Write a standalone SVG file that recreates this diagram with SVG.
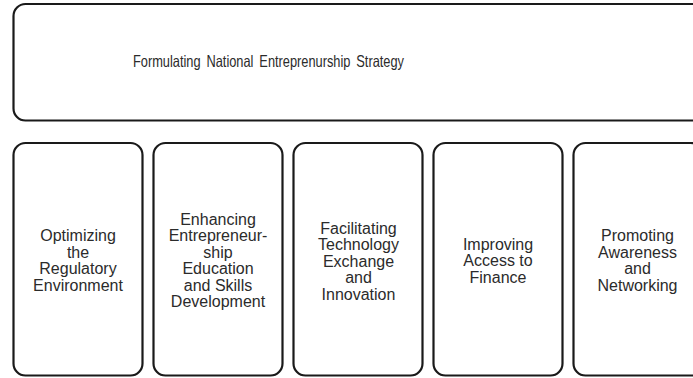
<svg xmlns="http://www.w3.org/2000/svg" width="693" height="378" viewBox="0 0 693 378">
<style>
.box{fill:#fff;stroke:#1a1a1a;stroke-width:2.2}
.t{font-family:"Liberation Sans",Arial,sans-serif;font-size:16px;fill:#2b2b2b;text-anchor:middle}
.title{font-family:"Liberation Sans",Arial,sans-serif;font-size:16.5px;fill:#2b2b2b;text-anchor:start;word-spacing:3px}
</style>
<rect width="693" height="378" fill="#fff"/>
<g id="strategy">
<rect class="box" x="13.5" y="4" width="700" height="116.5" rx="12"/>
<text class="title" x="133" y="67" textLength="271" lengthAdjust="spacingAndGlyphs">Formulating National Entreprenurship Strategy</text>
</g>
<g id="regulatory">
<rect class="box" x="13.5" y="143" width="129" height="232.5" rx="12"/>
<text class="t" x="78" y="241">Optimizing</text>
<text class="t" x="78" y="257.5">the</text>
<text class="t" x="78" y="274">Regulatory</text>
<text class="t" x="78" y="290.5">Environment</text>
</g>
<g id="education">
<rect class="box" x="153.5" y="143" width="129" height="232.5" rx="12"/>
<text class="t" x="218" y="224.5">Enhancing</text>
<text class="t" x="218" y="241">Entrepreneur-</text>
<text class="t" x="218" y="257.5">ship</text>
<text class="t" x="218" y="274">Education</text>
<text class="t" x="218" y="290.5">and Skills</text>
<text class="t" x="218" y="307">Development</text>
</g>
<g id="technology">
<rect class="box" x="293.5" y="143" width="129" height="232.5" rx="12"/>
<text class="t" x="358.5" y="233.5">Facilitating</text>
<text class="t" x="358.5" y="250">Technology</text>
<text class="t" x="358.5" y="266.5">Exchange</text>
<text class="t" x="358.5" y="283">and</text>
<text class="t" x="358.5" y="299.5">Innovation</text>
</g>
<g id="finance">
<rect class="box" x="433.5" y="143" width="129" height="232.5" rx="12"/>
<text class="t" x="498" y="249.5">Improving</text>
<text class="t" x="498" y="266">Access to</text>
<text class="t" x="498" y="282.5">Finance</text>
</g>
<g id="networking">
<rect class="box" x="573.5" y="143" width="129" height="232.5" rx="12"/>
<text class="t" x="637.5" y="241">Promoting</text>
<text class="t" x="637.5" y="257.5">Awareness</text>
<text class="t" x="637.5" y="274">and</text>
<text class="t" x="637.5" y="290.5">Networking</text>
</g>
<g id="connectors"/>
</svg>
